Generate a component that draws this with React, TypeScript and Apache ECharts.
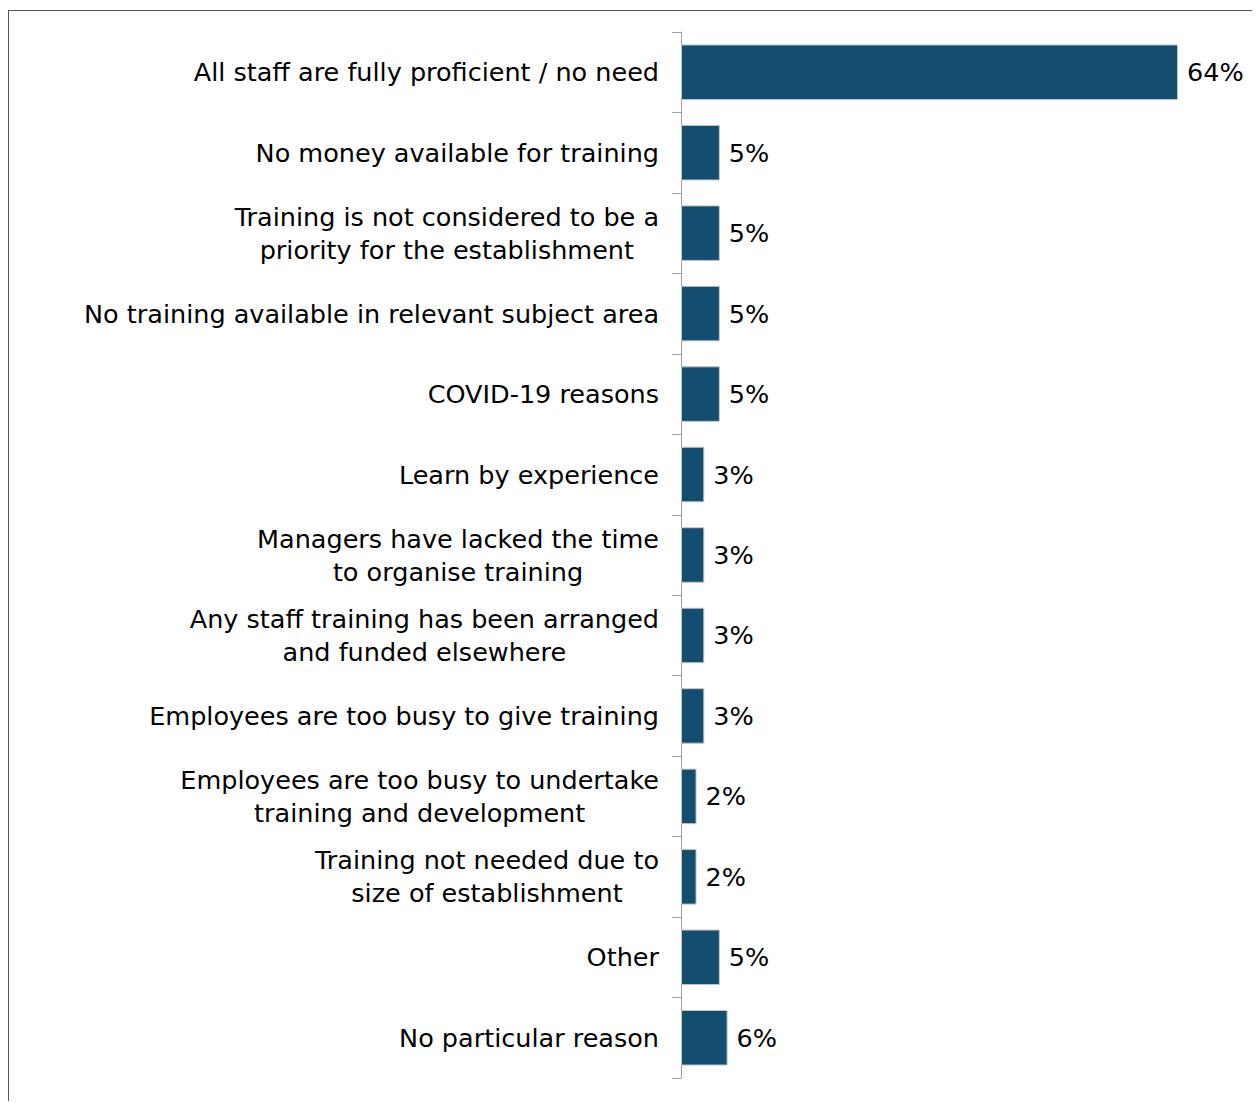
import React, { useEffect, useRef } from "react";
import * as echarts from "echarts";

const categories: string[] = [
  "All staff are fully proficient / no need",
  "No money available for training",
  "Training is not considered to be a\npriority for the establishment",
  "No training available in relevant subject area",
  "COVID-19 reasons",
  "Learn by experience",
  "Managers have lacked the time\nto organise training",
  "Any staff training has been arranged\nand funded elsewhere",
  "Employees are too busy to give training",
  "Employees are too busy to undertake\ntraining and development",
  "Training not needed due to\nsize of establishment",
  "Other",
  "No particular reason",
];

const values: number[] = [64, 5, 5, 5, 5, 3, 3, 3, 3, 2, 2, 5, 6];

const FONT = "'DejaVu Sans', 'Liberation Sans', Arial, sans-serif";

export default function App() {
  const ref = useRef<HTMLDivElement>(null);

  useEffect(() => {
    document.documentElement.style.overflow = "hidden";
    document.body.style.overflow = "hidden";
    if (!ref.current) return;
    const chart = echarts.init(ref.current, undefined, { renderer: "svg" });
    chart.setOption({
      animation: false,
      backgroundColor: "#ffffff",
      grid: { left: 672, top: 21, bottom: 25, right: 35.4, containLabel: false },
      xAxis: {
        type: "value",
        min: 0,
        max: 70,
        show: false,
      },
      yAxis: {
        type: "category",
        data: categories,
        inverse: true,
        axisLine: { show: true, lineStyle: { color: "#a0a0a0", width: 1 } },
        axisTick: { show: true, length: 9, lineStyle: { color: "#a0a0a0", width: 1 } },
        axisLabel: {
          margin: 22,
          color: "#000000",
          fontFamily: FONT,
          fontSize: 25.5,
          lineHeight: 33,
          align: "right",
          formatter: (v: string) =>
            v
              .split("\n")
              .map((s) => `{c|${s}}`)
              .join("\n"),
          rich: {
            c: {
              align: "center",
              color: "#000000",
              fontFamily: FONT,
              fontSize: 25.5,
              lineHeight: 33,
            },
          },
        },
        splitLine: { show: false },
      },
      series: [
        {
          type: "bar",
          data: values,
          barCategoryGap: "31%",
          itemStyle: { color: "#134E71", borderColor: "#c4c4c4", borderWidth: 1 },
          label: {
            show: true,
            position: "right",
            distance: 9,
            color: "#000000",
            fontFamily: FONT,
            fontSize: 25.5,
            formatter: (p: any) => `${p.value}%`,
          },
        },
      ],
    });
    return () => chart.dispose();
  }, []);

  return (
    <div
      style={{
        position: "relative",
        top: 2,
        width: 1252,
        height: 1093,
        boxSizing: "border-box",
        borderTop: "1px solid #555555",
        borderLeft: "1px solid #555555",
        background: "#ffffff",
      }}
    >
      <div ref={ref} style={{ width: 1251, height: 1092 }} />
    </div>
  );
}
